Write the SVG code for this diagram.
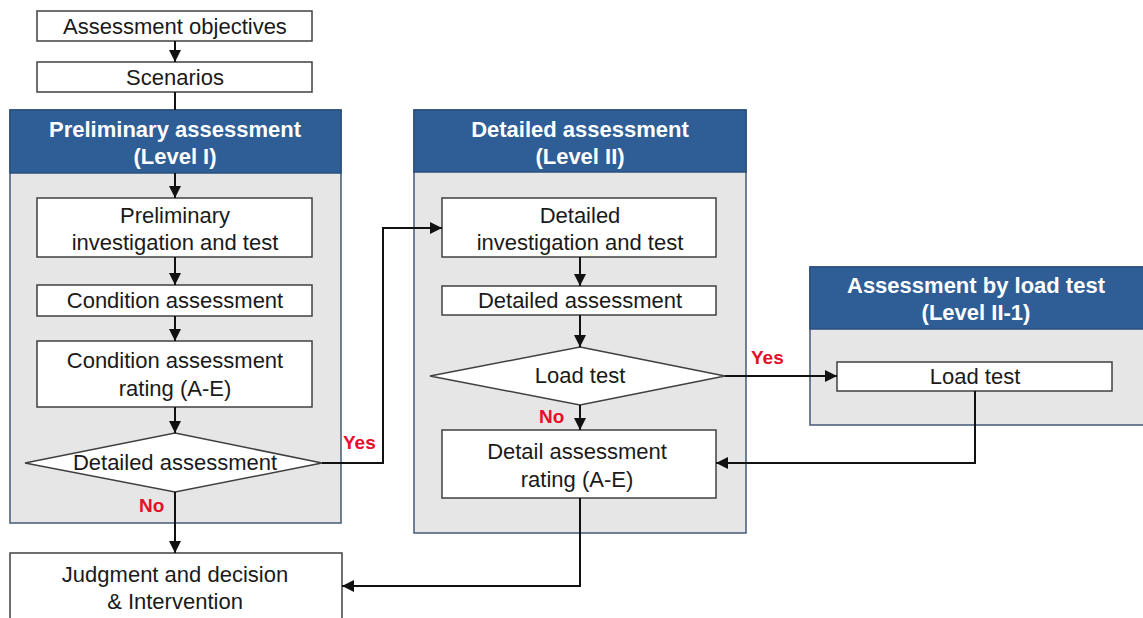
<svg xmlns="http://www.w3.org/2000/svg" width="1143" height="618" viewBox="0 0 1143 618">
<style>
.box{fill:#fff;stroke:#404040;stroke-width:1.5}
.panel{fill:#e6e6e6;stroke:#45587a;stroke-width:1.5}
.head{fill:#2f5e96;stroke:#2a4f7e;stroke-width:1.5}
.t{font-family:"Liberation Sans",Arial,sans-serif;font-size:22px;fill:#1a1a1a;text-anchor:middle}
.h{font-family:"Liberation Sans",Arial,sans-serif;font-size:22px;font-weight:bold;fill:#fff;text-anchor:middle}
.r{font-family:"Liberation Sans",Arial,sans-serif;font-size:19px;font-weight:bold;fill:#e5102a}
.c{fill:none;stroke:#111;stroke-width:2}
</style>
<defs>
<marker id="a" viewBox="0 0 10 10" refX="10" refY="5" markerWidth="6" markerHeight="6" orient="auto" markerUnits="strokeWidth">
<path d="M0,0L10,5L0,10z" fill="#111"/>
</marker>
</defs>
<rect width="1143" height="618" fill="#fff"/>

<g id="objectives"><rect class="box" x="37" y="11" width="275" height="30"/><text class="t" x="175" y="34">Assessment objectives</text></g>
<g id="scenarios"><rect class="box" x="37" y="62" width="275" height="30"/><text class="t" x="175" y="85">Scenarios</text></g>

<g id="panel1">
<rect class="panel" x="10" y="110" width="331" height="413"/>
<rect class="head" x="10" y="110" width="331" height="63"/>
<text class="h" x="175" y="137">Preliminary assessment</text>
<text class="h" x="175" y="164">(Level I)</text>
</g>
<g id="panel2">
<rect class="panel" x="414" y="110" width="332" height="423"/>
<rect class="head" x="414" y="110" width="332" height="62"/>
<text class="h" x="580" y="137">Detailed assessment</text>
<text class="h" x="580" y="164">(Level II)</text>
</g>
<g id="panel3">
<rect class="panel" x="810" y="267" width="340" height="158"/>
<rect class="head" x="810" y="267" width="340" height="62"/>
<text class="h" x="976" y="293">Assessment by load test</text>
<text class="h" x="976" y="320">(Level II-1)</text>
</g>

<g id="prelim"><rect class="box" x="37" y="198" width="275" height="59"/><text class="t" x="175" y="223">Preliminary</text><text class="t" x="175" y="250">investigation and test</text></g>
<g id="condition"><rect class="box" x="37" y="285" width="275" height="31"/><text class="t" x="175" y="308">Condition assessment</text></g>
<g id="condrating"><rect class="box" x="37" y="341" width="275" height="66"/><text class="t" x="175" y="368">Condition assessment</text><text class="t" x="175" y="396">rating (A-E)</text></g>
<g id="decision1"><polygon class="box" points="175,433 322,463 175,492 25,463"/><text class="t" x="175" y="470">Detailed assessment</text></g>

<g id="detinv"><rect class="box" x="442" y="198" width="274" height="59"/><text class="t" x="580" y="223">Detailed</text><text class="t" x="580" y="250">investigation and test</text></g>
<g id="detassess"><rect class="box" x="442" y="286" width="274" height="29"/><text class="t" x="580" y="308">Detailed assessment</text></g>
<g id="decision2"><polygon class="box" points="580,347 725,376 580,405 430,376"/><text class="t" x="580" y="383">Load test</text></g>
<g id="detrating"><rect class="box" x="442" y="430" width="274" height="68"/><text class="t" x="577" y="459">Detail assessment</text><text class="t" x="577" y="487">rating (A-E)</text></g>

<g id="loadtest"><rect class="box" x="837" y="362" width="275" height="29"/><text class="t" x="975" y="384">Load test</text></g>

<g id="judgment"><rect class="box" x="10" y="553" width="332" height="70"/><text class="t" x="175" y="582">Judgment and decision</text><text class="t" x="175" y="609">&amp; Intervention</text></g>

<g id="connectors">
<path class="c" d="M175,41V62" marker-end="url(#a)"/>
<path class="c" d="M175,92V110"/>
<path class="c" d="M175,173V198" marker-end="url(#a)"/>
<path class="c" d="M175,257V285" marker-end="url(#a)"/>
<path class="c" d="M175,316V341" marker-end="url(#a)"/>
<path class="c" d="M175,407V433" marker-end="url(#a)"/>
<path class="c" d="M175,492V553" marker-end="url(#a)"/>
<path class="c" d="M322,463H383V228H442" marker-end="url(#a)"/>
<path class="c" d="M580,257V286" marker-end="url(#a)"/>
<path class="c" d="M580,315V347" marker-end="url(#a)"/>
<path class="c" d="M580,405V430" marker-end="url(#a)"/>
<path class="c" d="M725,376H837" marker-end="url(#a)"/>
<path class="c" d="M975,391V463H716" marker-end="url(#a)"/>
<path class="c" d="M580,498V586H342" marker-end="url(#a)"/>
<text class="r" x="343" y="449">Yes</text>
<text class="r" x="751" y="364">Yes</text>
<text class="r" x="139" y="512">No</text>
<text class="r" x="539" y="423">No</text>
</g>
</svg>
